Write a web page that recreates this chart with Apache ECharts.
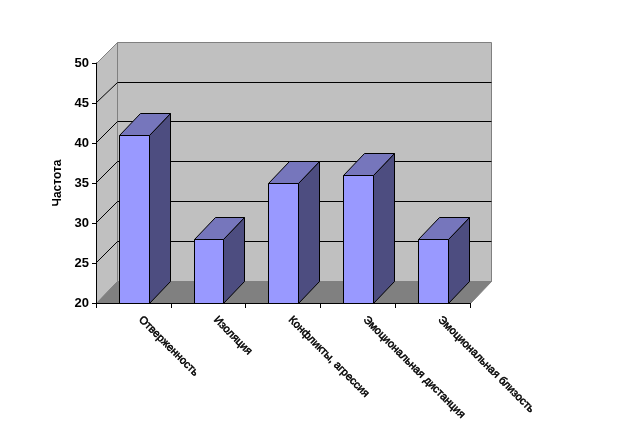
<!DOCTYPE html>
<html><head><meta charset="utf-8">
<style>html,body{margin:0;padding:0;background:#fff}#c{width:627px;height:440px}</style>
<script src="https://cdn.jsdelivr.net/npm/echarts@6/dist/echarts.min.js"></script>
</head><body><div id="c"></div>
<script>
const categories = ['Отверженность','Изоляция','Конфликты, агрессия','Эмоциональная дистанция','Эмоциональная близость'];
const values = [41, 28, 35, 36, 28];
const yTicks = [20, 25, 30, 35, 40, 45, 50];
const axisName = 'Частота';

const DX = 21, DY_TOP = -21, DY = -22;
const FONT = '"Liberation Sans", Arial, sans-serif';
const chart = echarts.init(document.getElementById('c'), null, {renderer:'canvas'});

function poly(points, fill, stroke){
  return {type:'polygon', shape:{points}, style:{fill, stroke: stroke||'none', lineWidth:1}};
}
function line(p, stroke){
  return {type:'polyline', shape:{points:p}, style:{fill:'none', stroke, lineWidth:1}};
}
function renderWalls(params, api){
  const cs = params.coordSys;
  const x0 = cs.x + .5, x1 = cs.x + cs.width + .5, yT = cs.y + .5, yB = cs.y + cs.height + .5;
  const gray = '#808080';
  const backT = yT + DY_TOP, backB = yB + DY;
  const children = [
    poly([[x0+DX,backT],[x1+DX,backT],[x1+DX,backB],[x0+DX,backB]], '#C0C0C0', gray),
    poly([[x0,yT],[x0+DX,backT],[x0+DX,backB],[x0,yB]], '#C0C0C0', gray),
    poly([[x0,yB],[x0+DX,backB],[x1+DX,backB],[x1,yB]], '#808080', gray)
  ];
  yTicks.forEach(t => {
    if (t === yTicks[0] || t === yTicks[yTicks.length-1]) return;
    const c = api.coord([0, t])[1];
    const back = cs.y + DY_TOP + (c - cs.y) * (cs.height + DY - DY_TOP) / cs.height;
    const yb = Math.round(back - 0.2) + .5;
    const yf = Math.round(c) - 0.5;
    children.push(line([[x0,yf],[x0+DX,yb],[x1+DX,yb]], '#000'));
  });
  return {type:'group', children};
}
function renderBar(params, api){
  const c = api.coord([api.value(0), api.value(1)]);
  const base = api.coord([api.value(0), yTicks[0]]);
  const bw = api.size([1,0])[0] * 0.4;
  const l = Math.round(c[0] - bw/2 + 0.3) + 0.5, r = Math.round(c[0] + bw/2 + 0.3) + 0.5;
  const t = Math.round(c[1]) + 0.5, b = Math.round(base[1]) + 0.5;
  return {type:'group', children:[
    poly([[r,t],[r+DX,t+DY],[r+DX,b+DY],[r,b]], '#4D4D80', '#000'),
    poly([[l,t],[l+DX,t+DY],[r+DX,t+DY],[r,t]], '#7676BC', '#000'),
    poly([[l,t],[r,t],[r,b],[l,b]], '#9999FF', '#000')
  ]};
}
chart.setOption({
  animation:false,
  backgroundColor:'#fff',
  grid:{left:96, top:63, width:374, height:240, containLabel:false},
  xAxis:{type:'category', data:categories, z:10,
    axisLine:{lineStyle:{color:'#000',width:1}},
    axisTick:{show:true, alignWithLabel:false, length:5, lineStyle:{color:'#000'}},
    axisLabel:{interval:0, rotate:-45, margin:8, padding:[0,0,0,10], color:'#000', fontFamily:FONT, fontSize:11, textBorderColor:'#000', textBorderWidth:0.5},
    splitLine:{show:false}
  },
  yAxis:{type:'value', min:20, max:50, interval:5, z:10,
    name:axisName, nameLocation:'middle', nameGap:31,
    nameTextStyle:{color:'#000', fontFamily:FONT, fontSize:12, fontWeight:'bold'},
    axisLine:{show:true, lineStyle:{color:'#000',width:1}},
    axisTick:{show:true, length:4, lineStyle:{color:'#000'}},
    axisLabel:{margin:7, color:'#000', fontFamily:FONT, fontSize:13, fontWeight:'bold'},
    splitLine:{show:false}
  },
  series:[
    {type:'custom', coordinateSystem:'cartesian2d', z:1, silent:true, data:[[0,20]], encode:{x:0,y:1}, renderItem:renderWalls},
    {type:'custom', coordinateSystem:'cartesian2d', z:2, data:values.map((v,i)=>[i,v]), encode:{x:0,y:1}, renderItem:renderBar}
  ]
});
</script></body></html>
